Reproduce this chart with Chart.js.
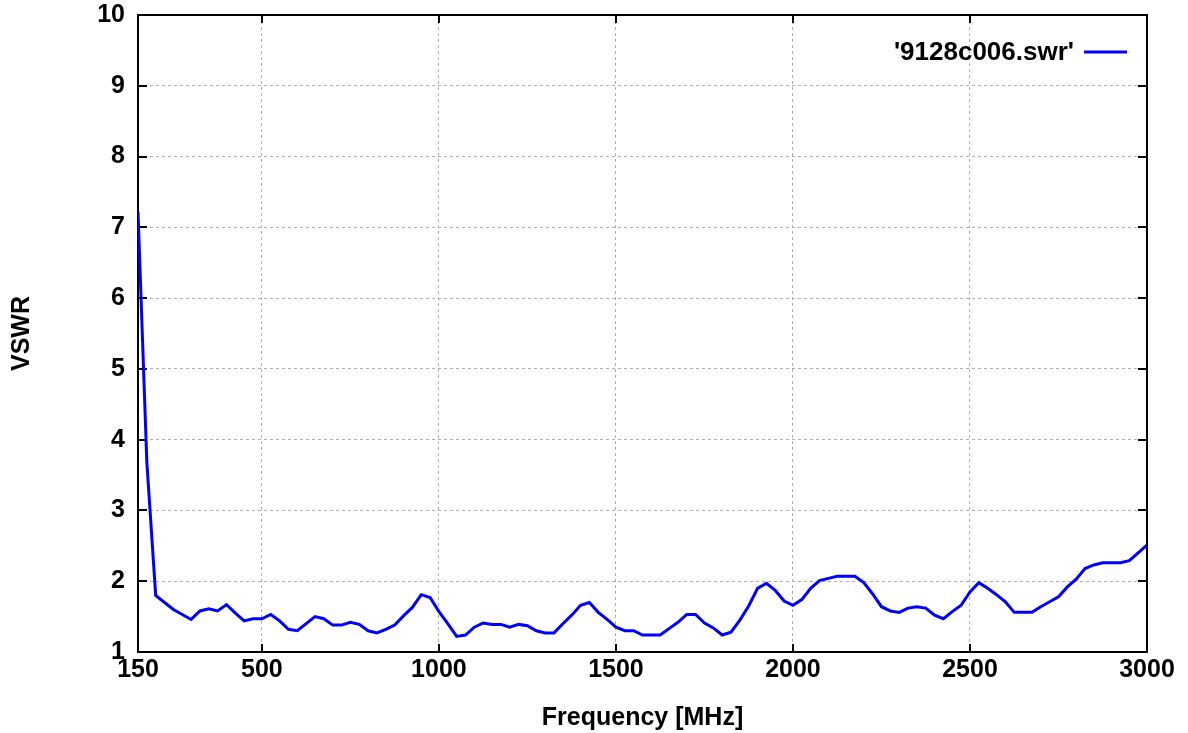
<!DOCTYPE html>
<html>
<head>
    <title>VSWR</title>
    <script src="https://cdn.jsdelivr.net/npm/chart.js"></script>
    <style>
        body { margin: 0; background: #fff; }
    </style>
</head>
<body>
    <canvas id="swrChart" width="1188" height="733"></canvas>

    <script>
        // Frequenz (MHz) und gemessenes VSWR
        const freqMHz = [
            150, 175, 200, 225, 250, 275, 300, 325, 350, 375, 400, 425, 450, 475, 500,
            525, 550, 575, 600, 625, 650, 675, 700, 725, 750, 775, 800, 825, 850, 875,
            900, 925, 950, 975, 1000, 1025, 1050, 1075, 1100, 1125, 1150, 1175, 1200, 1225, 1250,
            1275, 1300, 1325, 1350, 1375, 1400, 1425, 1450, 1475, 1500, 1525, 1550, 1575, 1600, 1625,
            1650, 1675, 1700, 1725, 1750, 1775, 1800, 1825, 1850, 1875, 1900, 1925, 1950, 1975, 2000,
            2025, 2050, 2075, 2100, 2125, 2150, 2175, 2200, 2225, 2250, 2275, 2300, 2325, 2350, 2375,
            2400, 2425, 2450, 2475, 2500, 2525, 2550, 2575, 2600, 2625, 2650, 2675, 2700, 2725, 2750,
            2775, 2800, 2825, 2850, 2875, 2900, 2925, 2950, 2975, 3000
        ];
        const vswr = [
            7.22, 3.68, 1.80, 1.70, 1.60, 1.53, 1.46, 1.58, 1.61, 1.58, 1.67, 1.55, 1.44, 1.47, 1.47,
            1.53, 1.44, 1.32, 1.30, 1.40, 1.50, 1.47, 1.38, 1.38, 1.42, 1.39, 1.30, 1.27, 1.32, 1.38,
            1.51, 1.63, 1.81, 1.77, 1.57, 1.40, 1.22, 1.24, 1.35, 1.41, 1.39, 1.39, 1.35, 1.39, 1.37,
            1.30, 1.27, 1.27, 1.40, 1.52, 1.66, 1.70, 1.56, 1.46, 1.35, 1.30, 1.30, 1.24, 1.24, 1.24,
            1.33, 1.42, 1.53, 1.53, 1.41, 1.34, 1.24, 1.28, 1.45, 1.65, 1.90, 1.97, 1.87, 1.72, 1.66,
            1.74, 1.90, 2.01, 2.04, 2.07, 2.07, 2.07, 1.98, 1.82, 1.64, 1.58, 1.56, 1.62, 1.64, 1.62,
            1.52, 1.47, 1.57, 1.66, 1.85, 1.98, 1.90, 1.81, 1.71, 1.56, 1.56, 1.56, 1.64, 1.71, 1.78,
            1.92, 2.03, 2.18, 2.23, 2.26, 2.26, 2.26, 2.29, 2.40, 2.51
        ];
        const xTicks = [150, 500, 1000, 1500, 2000, 2500, 3000];
        const seriesName = "'9128c006.swr'";

        const fontFamily = "'Liberation Sans', Arial, sans-serif";
        const textFont = { family: fontFamily, size: 25, weight: 'bold' };

        // Rahmen + Tick-Marken nach innen (wie gnuplot)
        const framePlugin = {
            id: 'frame',
            beforeDatasetsDraw(chart) {
                const { ctx, chartArea: a, scales } = chart;
                ctx.save();
                ctx.strokeStyle = '#000';
                ctx.lineWidth = 2;
                ctx.beginPath();
                scales.x.ticks.forEach(t => {
                    const px = Math.round(scales.x.getPixelForValue(t.value));
                    ctx.moveTo(px, a.bottom); ctx.lineTo(px, a.bottom - 8);
                    ctx.moveTo(px, a.top); ctx.lineTo(px, a.top + 8);
                });
                scales.y.ticks.forEach(t => {
                    const py = Math.round(scales.y.getPixelForValue(t.value));
                    ctx.moveTo(a.left, py); ctx.lineTo(a.left + 9, py);
                    ctx.moveTo(a.right, py); ctx.lineTo(a.right - 9, py);
                });
                ctx.stroke();
                ctx.strokeRect(a.left, a.top, a.right - a.left, a.bottom - a.top);
                ctx.restore();
            },
            afterDraw(chart) {
                const { ctx } = chart;
                const ds = chart.data.datasets[0];
                ctx.save();
                ctx.font = 'bold 26px ' + fontFamily;
                ctx.fillStyle = '#000';
                ctx.textAlign = 'right';
                ctx.textBaseline = 'middle';
                ctx.fillText(ds.label, 1074, 53);
                ctx.strokeStyle = ds.borderColor;
                ctx.lineWidth = 3;
                ctx.beginPath();
                ctx.moveTo(1084, 52);
                ctx.lineTo(1127, 52);
                ctx.stroke();
                ctx.restore();
            }
        };

        const ctx = document.getElementById('swrChart').getContext('2d');
        const chart = new Chart(ctx, {
            type: 'line',
            data: {
                datasets: [{
                    label: seriesName,
                    data: freqMHz.map((f, i) => ({ x: f, y: vswr[i] })),
                    borderColor: '#0000ff',
                    borderWidth: 3,
                    pointRadius: 0,
                    tension: 0,
                    fill: false
                }]
            },
            options: {
                responsive: false,
                animation: false,
                devicePixelRatio: 1,
                layout: { padding: { top: 15, right: 41, left: 0, bottom: 0 } },
                plugins: {
                    legend: { display: false },
                    tooltip: { enabled: false }
                },
                scales: {
                    x: {
                        type: 'linear',
                        min: 150,
                        max: 3000,
                        afterBuildTicks: (scale) => {
                            scale.ticks = xTicks.map(v => ({ value: v }));
                        },
                        afterFit: (scale) => {
                            scale.height = 81;
                            scale.paddingLeft = 0;
                            scale.paddingRight = 0;
                        },
                        ticks: {
                            color: '#000',
                            font: textFont,
                            padding: 3,
                            maxRotation: 0,
                            autoSkip: false,
                            callback: (v) => String(v)
                        },
                        grid: { color: '#b0b0b0', lineWidth: 1, drawTicks: false },
                        border: { display: false, dash: [3, 3] },
                        title: {
                            display: true,
                            text: 'Frequency [MHz]',
                            color: '#000',
                            font: textFont,
                            padding: { top: 0, bottom: 0 }
                        }
                    },
                    y: {
                        min: 1,
                        max: 10,
                        afterFit: (scale) => {
                            scale.width = 138;
                            scale.paddingTop = 0;
                            scale.paddingBottom = 0;
                        },
                        ticks: {
                            stepSize: 1,
                            color: '#000',
                            font: textFont,
                            padding: 13
                        },
                        grid: { color: '#b0b0b0', lineWidth: 1, drawTicks: false },
                        border: { display: false, dash: [3, 3] },
                        title: {
                            display: true,
                            text: 'VSWR',
                            color: '#000',
                            font: textFont,
                            padding: { top: 7, bottom: 0 }
                        }
                    }
                }
            },
            plugins: [framePlugin]
        });
    </script>
</body>
</html>
